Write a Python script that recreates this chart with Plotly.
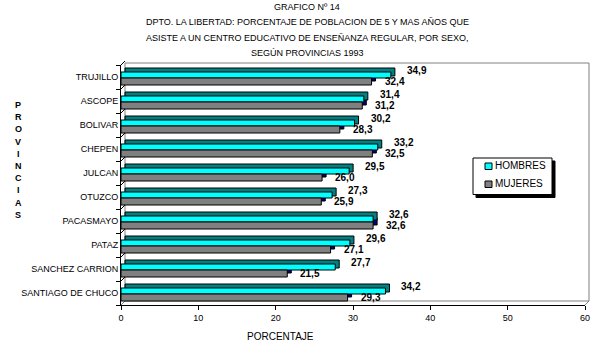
import plotly.graph_objects as go

# ---------------- data ----------------
provincias = ["TRUJILLO", "ASCOPE", "BOLIVAR", "CHEPEN", "JULCAN", "OTUZCO",
              "PACASMAYO", "PATAZ", "SANCHEZ CARRION", "SANTIAGO DE CHUCO"]
hombres = [34.9, 31.4, 30.2, 33.2, 29.5, 27.3, 32.6, 29.6, 27.7, 34.2]
mujeres = [32.4, 31.2, 28.3, 32.5, 26.0, 25.9, 32.6, 27.1, 21.5, 29.3]
x_ticks = [0, 10, 20, 30, 40, 50, 60]
title_lines = ["GRAFICO Nº 14",
               "DPTO. LA LIBERTAD: PORCENTAJE DE POBLACION DE 5 Y MAS AÑOS QUE",
               "ASISTE A UN CENTRO EDUCATIVO DE ENSEÑANZA REGULAR, POR SEXO,",
               "SEGÚN PROVINCIAS 1993"]

# ---------------- style / layout ----------------
W, H = 609, 348
PL, PR, PT, PB = 121, 585, 65, 305
CYAN, TEAL, GRAY, NAVY = "#00FFFF", "#008080", "#808080", "#000080"
FONT = "Liberation Sans, Arial, sans-serif"
DEPTH_X = 4 / ((PR - PL) / 60.0)   # 4 px in data units
BAND = (PB - PT) / len(provincias)


def px(x):
    return (x - PL) / (PR - PL)


def py(y):
    return (PB - y) / (PB - PT)


def u(pixels):
    return pixels / BAND


fig = go.Figure()
common = dict(y=provincias, orientation="h", hoverinfo="skip", showlegend=False,
              marker_line=dict(color="black", width=1))
# depth faces
fig.add_trace(go.Bar(x=mujeres, base=DEPTH_X, offset=u(-4), width=u(7),
                     marker_color=NAVY, **common))
fig.add_trace(go.Bar(x=hombres, base=DEPTH_X, offset=u(1), width=u(8),
                     marker_color=TEAL, **common))
# front faces
fig.add_trace(go.Bar(x=hombres, offset=u(-1), width=u(6), name="HOMBRES",
                     marker_color=CYAN, **common))
fig.add_trace(go.Bar(x=mujeres, offset=u(-8), width=u(7), name="MUJERES",
                     marker_color=GRAY, **common))

fmt = lambda v: f"{v:.1f}".replace(".", ",")
ann = []
for p, h, m in zip(provincias, hombres, mujeres):
    ann.append(dict(x=h, y=p, xref="x", yref="y", text=fmt(h), showarrow=False,
                    xanchor="left", yanchor="middle", xshift=14, yshift=6.5,
                    font=dict(family=FONT, size=10, color="black", weight="bold")))
    ann.append(dict(x=m, y=p, xref="x", yref="y", text=fmt(m), showarrow=False,
                    xanchor="left", yanchor="middle", xshift=11, yshift=-4.5,
                    font=dict(family=FONT, size=10, color="black", weight="bold")))

title_y = [7, 22, 37.5, 53]
for t, ty in zip(title_lines, title_y):
    ann.append(dict(x=px(307), y=py(ty), xref="paper", yref="paper", text=t,
                    showarrow=False, xanchor="center", yanchor="middle",
                    font=dict(family=FONT, size=9, color="black")))

for i, ch in enumerate("PROVINCIAS"):
    ann.append(dict(x=px(18), y=py(105 + 12.2 * i), xref="paper", yref="paper",
                    text=ch, showarrow=False, xanchor="center", yanchor="middle",
                    font=dict(family=FONT, size=9, color="black", weight="bold")))

ann.append(dict(x=px(280), y=py(336), xref="paper", yref="paper", text="PORCENTAJE",
                showarrow=False, xanchor="center", yanchor="middle",
                font=dict(family=FONT, size=10, color="black")))

# legend (manual)
ann.append(dict(x=px(493), y=py(165.7), xref="paper", yref="paper", text="HOMBRES",
                showarrow=False, xanchor="left", yanchor="middle",
                font=dict(family=FONT, size=10, color="black")))
ann.append(dict(x=px(493), y=py(183.7), xref="paper", yref="paper", text="MUJERES",
                showarrow=False, xanchor="left", yanchor="middle",
                font=dict(family=FONT, size=10, color="black")))

shapes = []


def line(x0, y0, x1, y1, color=GRAY, layer="below"):
    shapes.append(dict(type="line", xref="paper", yref="paper",
                       x0=px(x0), y0=py(y0), x1=px(x1), y1=py(y1),
                       line=dict(color=color, width=1), layer=layer))


def rect(x0, y0, x1, y1, fill, border="black", layer="above"):
    shapes.append(dict(type="rect", xref="paper", yref="paper",
                       x0=px(x0), y0=py(y0), x1=px(x1), y1=py(y1),
                       fillcolor=fill, line=dict(color=border, width=1), layer=layer))


# 3D walls
line(125, 63, 589, 63)
line(589, 63, 589, 301)
line(125, 301, 589, 301)
line(585, 305, 589, 301)
line(125, 63, 125, 301)
for k in range(len(provincias) + 1):
    yk = PT + BAND * k
    line(PL, yk, PL + 4, yk - 4, color="black" if k < len(provincias) else GRAY)

# legend box
rect(476, 161, 555, 197.5, "black", border="black")
rect(473, 158, 552, 194.5, "white")
rect(485, 163, 492, 169.5, CYAN)
rect(485, 181, 492, 187.5, GRAY)

fig.update_layout(
    width=W, height=H,
    margin=dict(l=PL, r=W - PR, t=PT, b=H - PB),
    barmode="overlay",
    paper_bgcolor="white", plot_bgcolor="white",
    showlegend=False,
    annotations=ann, shapes=shapes,
    xaxis=dict(range=[0, 60], tickvals=x_ticks, ticktext=[str(v) for v in x_ticks],
               showgrid=False, zeroline=False, showline=True, linecolor="black",
               ticks="outside", ticklen=4, tickcolor="black",
               tickfont=dict(family=FONT, size=9, color="black")),
    yaxis=dict(type="category", categoryorder="array",
               categoryarray=list(reversed(provincias)),
               range=[-0.5, len(provincias) - 0.5],
               showgrid=False, zeroline=False, showline=True, linecolor="black",
               ticks="outside", ticklen=4, tickcolor="black", tickson="boundaries",
               tickfont=dict(family=FONT, size=9, color="black")),
)

fig.write_html("out.html")
